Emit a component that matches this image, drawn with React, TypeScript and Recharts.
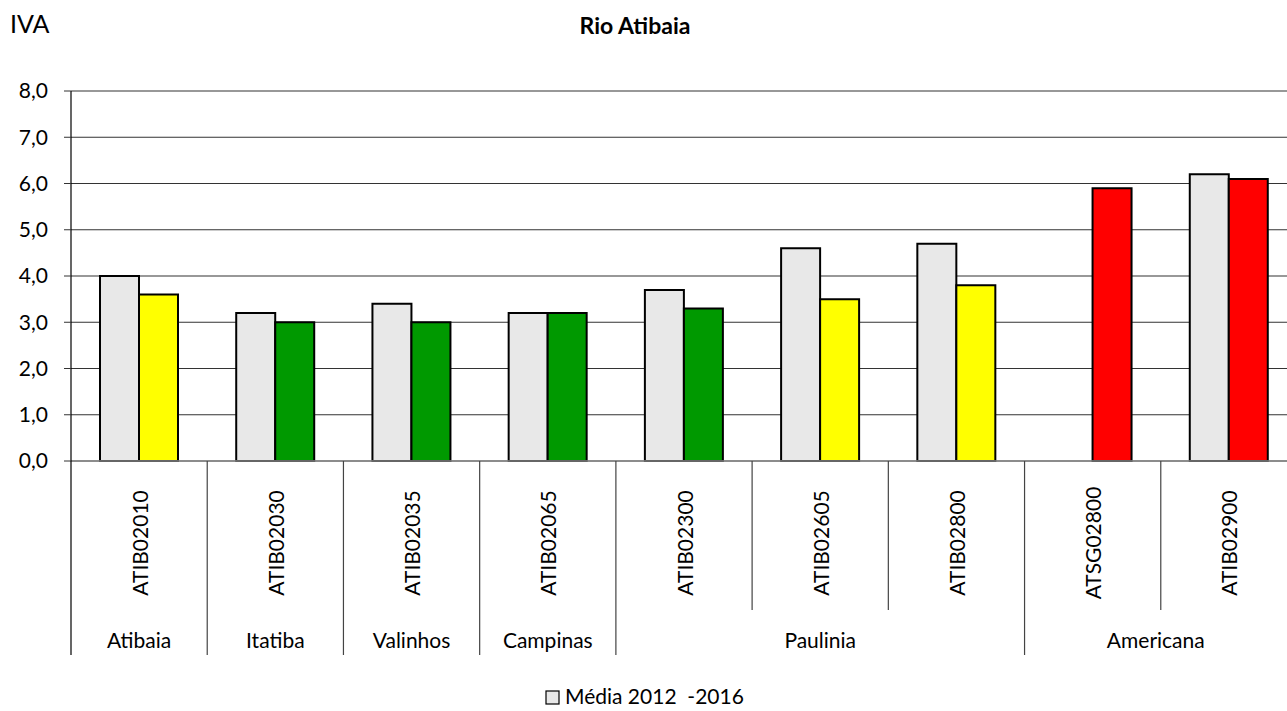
import React from 'react';
import { BarChart, Bar, XAxis, YAxis, CartesianGrid, Cell } from 'recharts';

const stations = ['ATIB02010', 'ATIB02030', 'ATIB02035', 'ATIB02065', 'ATIB02300', 'ATIB02605', 'ATIB02800', 'ATSG02800', 'ATIB02900'];
const cities = ['Atibaia', 'Itatiba', 'Valinhos', 'Campinas', 'Paulinia', 'Paulinia', 'Paulinia', 'Americana', 'Americana'];
const media = [4.0, 3.2, 3.4, 3.2, 3.7, 4.6, 4.7, null, 6.2];
const current = [3.6, 3.0, 3.0, 3.2, 3.3, 3.5, 3.8, 5.9, 6.1];
const currentColors = ['#FFFF00', '#009900', '#009900', '#009900', '#009900', '#FFFF00', '#FFFF00', '#FF0000', '#FF0000'];
const yTicks = [0, 1, 2, 3, 4, 5, 6, 7, 8];
const titleText = 'Rio Atibaia';
const yLabel = 'IVA';
const legendLabel = 'Média 2012  -2016';

const data = stations.map((s, i) => ({ station: s, city: cities[i], media: media[i], current: current[i] }));

const FONT = 'Lato, "Open Sans", sans-serif';
const CHART_W = 1300;
const CHART_H = 711;
const Y_AXIS_W = 71;
const MARGIN = { top: 91, right: 3, bottom: 0, left: 0 };
const PLOT_W = CHART_W - MARGIN.left - MARGIN.right - Y_AXIS_W;
const STEP = PLOT_W / stations.length;

const CatTick = (props: any) => {
  const { x, y, index } = props;
  const left = x - STEP / 2;
  const isGroupStart = index === 0 || cities[index - 1] !== cities[index];
  let n = 0;
  if (isGroupStart) {
    n = 1;
    while (index + n < cities.length && cities[index + n] === cities[index]) n++;
  }
  const ly = y + 82;
  return (
    <g>
      <line x1={left} x2={left} y1={y} y2={isGroupStart ? y + 194 : y + 149} stroke={index === 0 ? '#000' : '#444'} strokeWidth={1.2} />
      <text
        x={x}
        y={ly}
        transform={`rotate(-90 ${x} ${ly})`}
        textAnchor="middle"
        dominantBaseline="central"
        fontSize={21}
        fontFamily={FONT}
        fill="#000"
      >
        {stations[index]}
      </text>
      {isGroupStart && (
        <text x={x + ((n - 1) * STEP) / 2 - (n > 1 && index + n >= cities.length ? 5 : 0)} y={y + 187} textAnchor="middle" fontSize={21} fontFamily={FONT} fill="#000">
          {cities[index]}
        </text>
      )}
    </g>
  );
};

export default function App() {
  return (
    <div style={{ position: 'absolute', left: 0, top: 0, width: 1287, height: 711, overflow: 'hidden', background: '#fff' }}>
      <BarChart width={CHART_W} height={CHART_H} data={data} margin={MARGIN} barGap={0}>
        <CartesianGrid vertical={false} stroke="#333" strokeWidth={1.2} />
        <XAxis
          dataKey="station"
          interval={0}
          height={250}
          tickLine={false}
          tickSize={0}
          tickMargin={0}
          axisLine={{ stroke: '#888', strokeWidth: 1.5 }}
          tick={<CatTick />}
        />
        <YAxis
          width={Y_AXIS_W}
          domain={[0, 8]}
          ticks={yTicks}
          interval={0}
          tickSize={7}
          tickMargin={16}
          tickLine={{ stroke: '#333' }}
          axisLine={{ stroke: '#000', strokeWidth: 1.2 }}
          tickFormatter={(v: number) => v.toFixed(1).replace('.', ',')}
          tick={{ fontSize: 21, fontFamily: FONT, fill: '#000' }}
        />
        <Bar dataKey="media" fill="#E8E8E8" stroke="#000" strokeWidth={2} barSize={39} isAnimationActive={false} />
        <Bar dataKey="current" stroke="#000" strokeWidth={2} barSize={39} isAnimationActive={false}>
          {data.map((d, i) => (
            <Cell key={d.station} fill={currentColors[i]} />
          ))}
        </Bar>
      </BarChart>
      <svg width={1287} height={711} style={{ position: 'absolute', left: 0, top: 0, pointerEvents: 'none' }}>
        <text x={10} y={33} fontSize={25} fontFamily={FONT} fill="#000">{yLabel}</text>
        <text x={635} y={34} textAnchor="middle" fontSize={23} fontWeight="bold" fontFamily={FONT} fill="#000">{titleText}</text>
        <rect x={546} y={691} width={13} height={13} fill="#E8E8E8" stroke="#000" strokeWidth={1.2} />
        <text x={565} y={704} fontSize={21} fontFamily={FONT} fill="#000" style={{ whiteSpace: 'pre' }}>{legendLabel}</text>
      </svg>
    </div>
  );
}
